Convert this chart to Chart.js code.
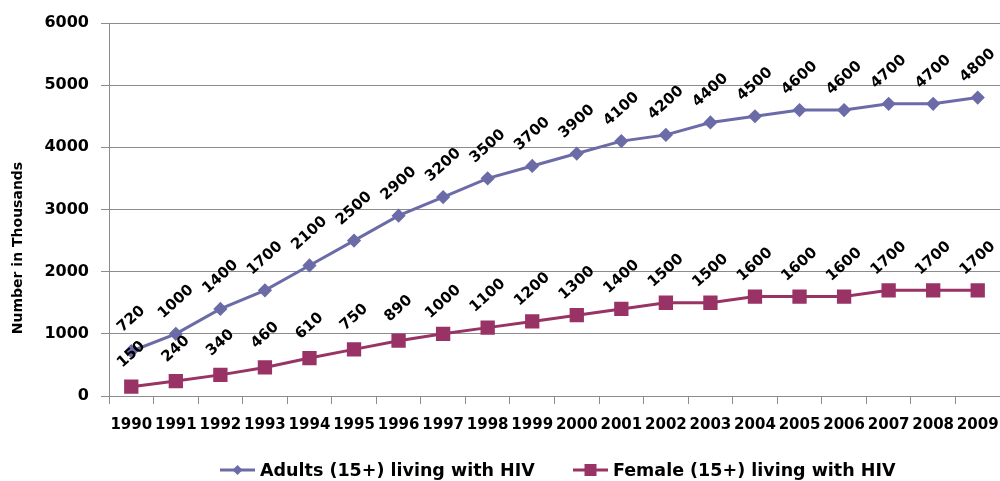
<!DOCTYPE html>
<html>
<head>
<meta charset="utf-8">
<script src="https://cdn.jsdelivr.net/npm/chart.js@4.4.1/dist/chart.umd.min.js"></script>
<style>
html,body{margin:0;padding:0;background:#fff;overflow:hidden;}
#wrap{width:1000px;height:481px;position:relative;}
</style>
</head>
<body>
<div id="wrap"><canvas id="c" width="1000" height="481"></canvas></div>
<script>
const years = ['1990','1991','1992','1993','1994','1995','1996','1997','1998','1999','2000','2001','2002','2003','2004','2005','2006','2007','2008','2009'];
const adults = [720,1000,1400,1700,2100,2500,2900,3200,3500,3700,3900,4100,4200,4400,4500,4600,4600,4700,4700,4800];
const female = [150,240,340,460,610,750,890,1000,1100,1200,1300,1400,1500,1500,1600,1600,1600,1700,1700,1700];
const yTicks = [0,1000,2000,3000,4000,5000,6000];
const seriesNames = ['Adults (15+) living with HIV','Female (15+) living with HIV'];
const yTitle = 'Number in Thousands';
const colors = ['#6B6BA8','#993366'];

const labelPlugin = {
  id:'rotLabels',
  afterDatasetsDraw(chart){
    const ctx = chart.ctx;
    ctx.save();
    ctx.font = 'bold 15px "DejaVu Sans"';
    ctx.fillStyle = '#000';
    ctx.textAlign = 'center';
    ctx.textBaseline = 'middle';
    chart.data.datasets.forEach((ds,i)=>{
      const meta = chart.getDatasetMeta(i);
      meta.data.forEach((pt,j)=>{
        ctx.save();
        ctx.translate(pt.x, pt.y - 32);
        ctx.rotate(-42*Math.PI/180);
        ctx.fillText(String(ds.data[j]), 0, 0);
        ctx.restore();
      });
    });
    ctx.restore();
  }
};

// Excel-style legend and axis title
const legendPlugin = {
  id:'excelLegend',
  afterDraw(chart){
    const ctx = chart.ctx;
    ctx.save();
    // y-axis title
    ctx.font = 'bold 14px "DejaVu Sans"';
    ctx.fillStyle = '#000';
    ctx.textAlign = 'center';
    ctx.textBaseline = 'middle';
    ctx.translate(18, 248);
    ctx.rotate(-Math.PI/2);
    ctx.fillText(yTitle, 0, 0);
    ctx.restore();

    ctx.save();
    const items = [{x:220, style:'diamond'},{x:573, style:'square'}];
    const cy = 470;
    ctx.font = 'bold 17.5px "DejaVu Sans"';
    ctx.textBaseline = 'middle';
    ctx.textAlign = 'left';
    chart.data.datasets.forEach((ds,i)=>{
      const it = items[i];
      const c = ds.borderColor;
      ctx.strokeStyle = c; ctx.lineWidth = 3;
      ctx.beginPath(); ctx.moveTo(it.x, cy); ctx.lineTo(it.x+35, cy); ctx.stroke();
      ctx.fillStyle = c;
      const mx = it.x + 17.5;
      ctx.beginPath();
      if(it.style==='diamond'){ ctx.moveTo(mx,cy-5); ctx.lineTo(mx+5,cy); ctx.lineTo(mx,cy+5); ctx.lineTo(mx-5,cy); ctx.closePath(); }
      else { ctx.rect(mx-6, cy-6, 12, 12); }
      ctx.fill();
      ctx.fillStyle = '#000';
      ctx.fillText(ds.label, it.x + 40, cy + 1);
    });
    ctx.restore();
  }
};

new Chart(document.getElementById('c'),{
  type:'line',
  data:{
    labels: years,
    datasets:[
      {label:seriesNames[0], data:adults, borderColor:colors[0], backgroundColor:colors[0], borderWidth:3, pointStyle:'rectRot', pointRadius:5, pointHoverRadius:5, tension:0},
      {label:seriesNames[1], data:female, borderColor:colors[1], backgroundColor:colors[1], borderWidth:3, pointStyle:'rect', pointRadius:8, pointHoverRadius:8, tension:0}
    ]
  },
  options:{
    responsive:false,
    animation:false,
    devicePixelRatio:1,
    layout:{autoPadding:false, padding:{top:23,right:0,bottom:0,left:0}},
    plugins:{
      tooltip:{enabled:false},
      legend:{display:false}
    },
    scales:{
      x:{
        offset:true,
        grid:{display:true, drawOnChartArea:false, offset:true, color:'#8c8c8c', tickLength:8, tickColor:'#8c8c8c'},
        border:{color:'#8c8c8c', width:1},
        ticks:{color:'#000', font:{family:'"DejaVu Sans"', size:15, weight:'bold'}, maxRotation:0, autoSkip:false, padding:12},
        afterFit(s){ s.height = 85; s.paddingLeft = 0; s.paddingRight = 0; }
      },
      y:{
        min:0, max:6000,
        afterBuildTicks(s){ s.ticks = yTicks.map(v=>({value:v})); },
        grid:{color:'#8c8c8c', tickLength:8, tickColor:'#8c8c8c'},
        border:{color:'#8c8c8c', width:1},
        ticks:{color:'#000', font:{family:'"DejaVu Sans"', size:16, weight:'bold'}, padding:12, callback:(v)=>String(v)},
        title:{display:false},
        afterFit(s){ s.width = 109; }
      }
    }
  },
  plugins:[labelPlugin, legendPlugin]
});
</script>
</body>
</html>
